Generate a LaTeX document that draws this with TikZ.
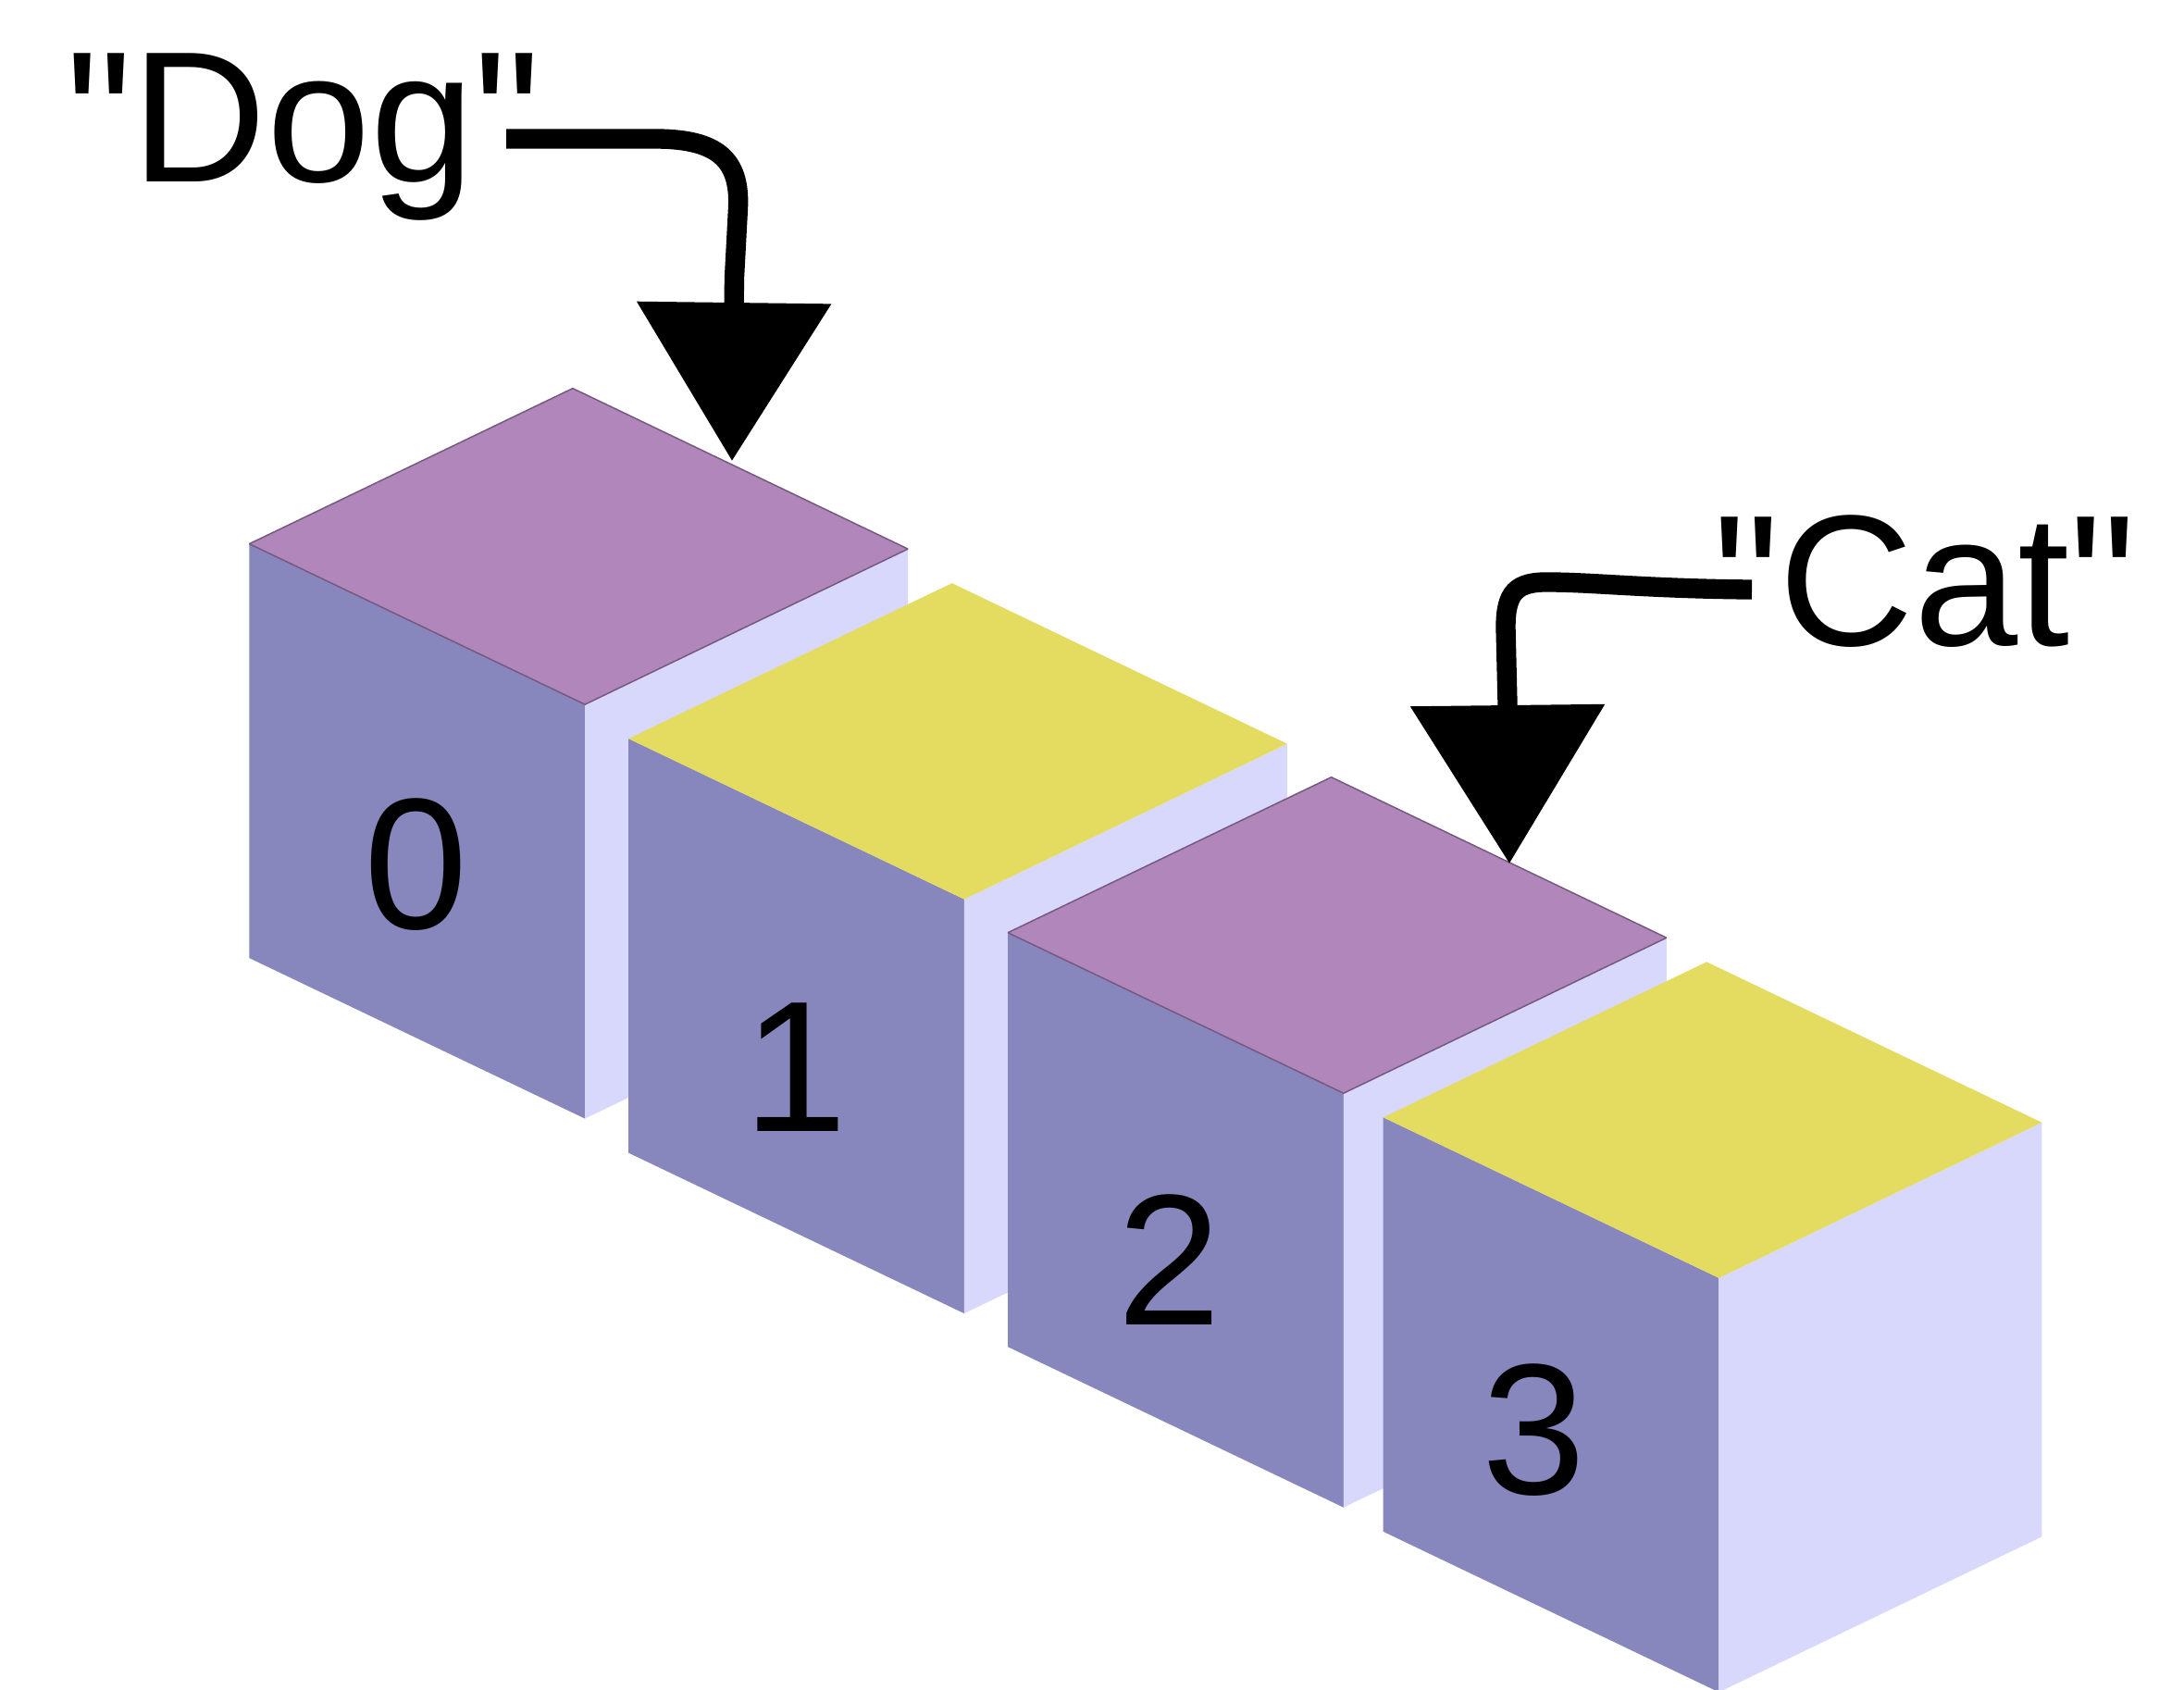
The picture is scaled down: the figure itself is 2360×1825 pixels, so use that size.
\documentclass[tikz,border=0pt]{standalone}
\usepackage{fontspec}
\newfontfamily\lfont{Liberation Sans}
\usetikzlibrary{arrows.meta}
\definecolor{leftc}{HTML}{8787BE}
\definecolor{rightc}{HTML}{D8D8FC}
\definecolor{purpc}{HTML}{B086BB}
\definecolor{yelc}{HTML}{E3DC61}
\definecolor{edgec}{HTML}{76597F}
\begin{document}
\begin{tikzpicture}[x=0.3bp,y=-0.3bp,
  lbl/.style={font=\fontsize{60.5bp}{72bp}\selectfont\lfont, inner sep=0pt, outer sep=0pt, text=black},
  conn/.style={line width=6.4bp, -{Triangle[width=61.5bp,length=51.3bp]}},
  leftface/.style={fill=leftc},
  rightface/.style={fill=rightc},
  toppurple/.style={fill=purpc, draw=edgec, line width=0.45bp, line join=bevel},
  topyellow/.style={fill=yelc},
  pics/cubebox/.style={code={
    \path[leftface] (0,0) -- (362.7,173.5) -- (362.7,621) -- (0,447.5) -- cycle;
    \path[rightface] (362.7,173.5) -- (711.7,5.5) -- (711.7,453) -- (362.7,621) -- cycle;
    \path[#1] (0,0) -- (349.5,-168) -- (711.7,5.5) -- (362.7,173.5) -- cycle;
  }}]
\useasboundingbox[fill=white] (0,0) rectangle (2360,1825);
% cubes, back to front
\pic (c0) at (269.4,587.6) {cubebox=toppurple};
\pic (c1) at (679.2,798.1) {cubebox=topyellow};
\pic (c2) at (1089.1,1007.7) {cubebox=toppurple};
\pic (c3) at (1494.7,1207.3) {cubebox=topyellow};
% index labels
\node[lbl, anchor=base] (n0) at (450,1003) {0};
\node[lbl, anchor=base] (n1) at (860,1222) {1};
\node[lbl, anchor=base] (n2) at (1264,1431.5) {2};
\node[lbl, anchor=base] (n3) at (1658,1614) {3};
% values
\node[lbl, anchor=base west] (dog) at (71,196) {"Dog"};
\node[lbl, anchor=base west] (cat) at (1851,697) {"Cat"};
% connectors
\coordinate (dogstart) at (547,150);
\coordinate (dogtip) at (791,498);
\coordinate (catstart) at (1893,637);
\coordinate (cattip) at (1631,933);
\draw[conn] (dogstart) -- (712,150) .. controls (772,151) and (800.4,170) .. (797.5,225) -- (793.5,300) -- (dogtip);
\draw[conn] (catstart) .. controls (1780,636) and (1720,629) .. (1675,629) .. controls (1638,628) and (1627,640) .. (1627,678) -- (1629,760) -- (cattip);
\end{tikzpicture}
\end{document}
